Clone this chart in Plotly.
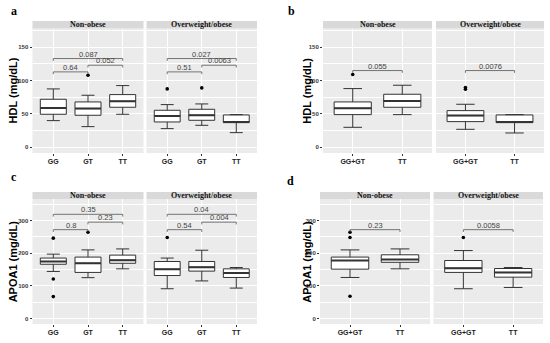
import plotly.graph_objects as go

# ---------------- data ----------------
cats3 = ["GG", "GT", "TT"]
cats2 = ["GG+GT", "TT"]
facet_names = ["Non-obese", "Overweight/obese"]

# Panel a : HDL (mg/dL) by genotype
a_non_low = [40, 31, 49.5]
a_non_q1 = [49.5, 48, 60]
a_non_med = [59, 58, 69]
a_non_q3 = [72, 68, 79]
a_non_up = [87.5, 78, 92.5]
a_non_out = {"GT": [108]}
a_ow_low = [28, 33, 22]
a_ow_q1 = [38, 40.5, 37]
a_ow_med = [47, 48, 38]
a_ow_q3 = [55.5, 57, 48.5]
a_ow_up = [64, 65, 49]
a_ow_out = {"GG": [87.5], "GT": [89]}

# Panel b : HDL (mg/dL), GG+GT vs TT
b_non_low = [30, 49]
b_non_q1 = [49, 60]
b_non_med = [58.5, 69.5]
b_non_q3 = [68, 79.5]
b_non_up = [88, 93]
b_non_out = {"GG+GT": [109]}
b_ow_low = [27, 21.5]
b_ow_q1 = [38.5, 37]
b_ow_med = [47.5, 38]
b_ow_q3 = [55, 48.5]
b_ow_up = [64.5, 49]
b_ow_out = {"GG+GT": [87, 89.5]}

# Panel c : APOA1 (mg/dL) by genotype
c_non_low = [144, 125, 152]
c_non_q1 = [166, 141, 169]
c_non_med = [174.5, 169, 178.5]
c_non_q3 = [185, 188, 194]
c_non_up = [197, 210, 213]
c_non_out = {"GG": [246, 121, 67], "GT": [264]}
c_ow_low = [91, 115, 93]
c_ow_q1 = [131.5, 145, 125.5]
c_ow_med = [151, 157, 139]
c_ow_q3 = [174.5, 174.5, 152]
c_ow_up = [185, 209, 156]
c_ow_out = {"GG": [248]}

# Panel d : APOA1 (mg/dL), GG+GT vs TT
d_non_low = [125.5, 152]
d_non_q1 = [151, 172]
d_non_med = [177.5, 180.5]
d_non_q3 = [188, 195]
d_non_up = [210, 213]
d_non_out = {"GG+GT": [264, 248, 68]}
d_ow_low = [91, 95]
d_ow_q1 = [141, 126.5]
d_ow_med = [154, 141]
d_ow_q3 = [177.5, 153]
d_ow_up = [208, 156]
d_ow_out = {"GG+GT": [248]}

# p-value brackets: (group1, group2, bracket height, label)
a_non_p = [("GG", "GT", 113, "0.64"), ("GT", "TT", 123, "0.052"), ("GG", "TT", 133, "0.087")]
a_ow_p = [("GG", "GT", 113, "0.51"), ("GT", "TT", 123, "0.0063"), ("GG", "TT", 133, "0.027")]
b_non_p = [("GG+GT", "TT", 115, "0.055")]
b_ow_p = [("GG+GT", "TT", 115, "0.0076")]
c_non_p = [("GG", "GT", 272, "0.8"), ("GT", "TT", 295, "0.23"), ("GG", "TT", 319, "0.35")]
c_ow_p = [("GG", "GT", 272, "0.54"), ("GT", "TT", 295, "0.004"), ("GG", "TT", 319, "0.04")]
d_non_p = [("GG+GT", "TT", 272, "0.23")]
d_ow_p = [("GG+GT", "TT", 272, "0.0058")]

y_titles = ["HDL (mg/dL)", "HDL (mg/dL)", "APOA1 (mg/dL)", "APOA1 (mg/dL)"]
panel_letters = ["a", "b", "c", "d"]

# ---------------- layout geometry (pixels) ----------------
W, H = 550, 343
panels = [
    dict(cats=cats3, stats=[(a_non_low, a_non_q1, a_non_med, a_non_q3, a_non_up, a_non_out, a_non_p),
                            (a_ow_low, a_ow_q1, a_ow_med, a_ow_q3, a_ow_up, a_ow_out, a_ow_p)],
         xdom=[(32.5, 143.5), (146.5, 257)], ydom=(28.5, 153), strip=(21, 28.5),
         yrange=[-8.5, 178], dtick=50, tip=3.5, title_x=12.7, letter=(14, 11)),
    dict(cats=cats2, stats=[(b_non_low, b_non_q1, b_non_med, b_non_q3, b_non_up, b_non_out, b_non_p),
                            (b_ow_low, b_ow_q1, b_ow_med, b_ow_q3, b_ow_up, b_ow_out, b_ow_p)],
         xdom=[(323, 432), (436, 544)], ydom=(28.5, 153), strip=(21, 28.5),
         yrange=[-8.5, 178], dtick=50, tip=3.5, title_x=307, letter=(291, 11)),
    dict(cats=cats3, stats=[(c_non_low, c_non_q1, c_non_med, c_non_q3, c_non_up, c_non_out, c_non_p),
                            (c_ow_low, c_ow_q1, c_ow_med, c_ow_q3, c_ow_up, c_ow_out, c_ow_p)],
         xdom=[(32.5, 143.5), (146.5, 257)], ydom=(199.3, 324), strip=(192, 199.3),
         yrange=[-17, 365], dtick=100, tip=7, title_x=12.7, letter=(14, 177)),
    dict(cats=cats2, stats=[(d_non_low, d_non_q1, d_non_med, d_non_q3, d_non_up, d_non_out, d_non_p),
                            (d_ow_low, d_ow_q1, d_ow_med, d_ow_q3, d_ow_up, d_ow_out, d_ow_p)],
         xdom=[(320, 430), (433.5, 543)], ydom=(199.3, 324), strip=(192, 199.3),
         yrange=[-17, 365], dtick=100, tip=7, title_x=307, letter=(290, 181)),
]

SANS = "Liberation Sans, Arial, sans-serif"
SERIF = "Liberation Serif, Times New Roman, serif"

fig = go.Figure()
layout = dict(width=W, height=H, margin=dict(l=0, r=0, t=0, b=0),
              paper_bgcolor="white", plot_bgcolor="#EBEBEB", showlegend=False)
annotations = []
shapes = []

k = 0
for pi, P in enumerate(panels):
    cats = P["cats"]
    for fi in range(2):
        k += 1
        xa = "x" if k == 1 else f"x{k}"
        ya = "y" if k == 1 else f"y{k}"
        low, q1, med, q3, up, outs, pvals = P["stats"][fi]
        # box
        fig.add_trace(go.Box(x=cats, q1=q1, median=med, q3=q3, lowerfence=low, upperfence=up,
                             width=0.75, boxpoints=False, fillcolor="white",
                             line=dict(color="#333333", width=1), xaxis=xa, yaxis=ya,
                             hoverinfo="skip"))
        # thicker median line
        fig.add_trace(go.Box(x=cats, q1=med, median=med, q3=med, lowerfence=med, upperfence=med,
                             width=0.75, boxpoints=False, fillcolor="rgba(0,0,0,0)",
                             line=dict(color="#333333", width=2), xaxis=xa, yaxis=ya,
                             hoverinfo="skip"))
        # outliers
        ox, oy = [], []
        for c, vals in outs.items():
            for v in vals:
                ox.append(c)
                oy.append(v)
        if ox:
            fig.add_trace(go.Scatter(x=ox, y=oy, mode="markers",
                                     marker=dict(color="black", size=3.6),
                                     xaxis=xa, yaxis=ya, hoverinfo="skip"))
        # brackets
        for g1, g2, yb, lab in pvals:
            fig.add_trace(go.Scatter(x=[g1, g1, g2, g2], y=[yb - P["tip"], yb, yb, yb - P["tip"]],
                                     mode="lines", line=dict(color="#555555", width=0.8),
                                     xaxis=xa, yaxis=ya, hoverinfo="skip"))
            mid = (cats.index(g1) + cats.index(g2)) / 2
            annotations.append(dict(x=mid, y=yb, xref=xa, yref=ya, text=lab, showarrow=False,
                                    yanchor="bottom", yshift=-2,
                                    font=dict(family=SANS, size=7.5, color="#444444")))
        x0, x1 = P["xdom"][fi]
        y0, y1 = P["ydom"]
        layout["xaxis" if k == 1 else f"xaxis{k}"] = dict(
            domain=[x0 / W, x1 / W], anchor=ya, type="category", categoryorder="array",
            categoryarray=cats, range=[-0.6, len(cats) - 0.4], showgrid=True,
            gridcolor="white", gridwidth=1, zeroline=False, showline=False,
            ticks="outside", ticklen=2, tickcolor="#333333", tickwidth=0.6,
            tickfont=dict(family=SANS, size=7, color="#222222", weight="bold"), fixedrange=True)
        yax = dict(domain=[1 - y1 / H, 1 - y0 / H], anchor=xa, range=P["yrange"],
                   tickmode="linear", tick0=0, dtick=P["dtick"], showgrid=True,
                   gridcolor="white", gridwidth=1, zeroline=False, showline=False,
                   minor=dict(dtick=P["dtick"] / 2, tick0=0, showgrid=True,
                              gridcolor="white", gridwidth=0.5),
                   tickfont=dict(family=SANS, size=6, color="#3A3A3A", weight="bold"),
                   fixedrange=True)
        if fi == 0:
            yax.update(ticks="outside", ticklen=2, tickcolor="#333333", tickwidth=0.6,
                       showticklabels=True)
        else:
            yax.update(ticks="", showticklabels=False)
        layout["yaxis" if k == 1 else f"yaxis{k}"] = yax
        # strip
        s0, s1 = P["strip"]
        shapes.append(dict(type="rect", xref="paper", yref="paper", x0=x0 / W, x1=x1 / W,
                           y0=1 - s1 / H, y1=1 - s0 / H, fillcolor="#D9D9D9",
                           line=dict(width=0), layer="below"))
        annotations.append(dict(x=(x0 + x1) / 2 / W, y=1 - (s0 + s1) / 2 / H, xref="paper",
                                yref="paper", text=f"<b>{facet_names[fi]}</b>", showarrow=False,
                                xanchor="center", yanchor="middle",
                                font=dict(family=SERIF, size=8, color="#111111")))
    # y title
    y0, y1 = P["ydom"]
    annotations.append(dict(x=P["title_x"] / W, y=1 - (y0 + y1) / 2 / H, xref="paper",
                            yref="paper", text=f"<b>{y_titles[pi]}</b>", textangle=-90,
                            showarrow=False, xanchor="center", yanchor="middle",
                            font=dict(family=SANS, size=11, color="black")))
    lx, ly = P["letter"]
    annotations.append(dict(x=lx / W, y=1 - ly / H, xref="paper", yref="paper",
                            text=f"<b>{panel_letters[pi]}</b>", showarrow=False,
                            xanchor="center", yanchor="middle",
                            font=dict(family=SERIF, size=12, color="black")))

layout["annotations"] = annotations
layout["shapes"] = shapes
fig.update_layout(**layout)
fig.write_html("out.html", config={"displayModeBar": False},
               post_script="document.body.style.margin='0';")
